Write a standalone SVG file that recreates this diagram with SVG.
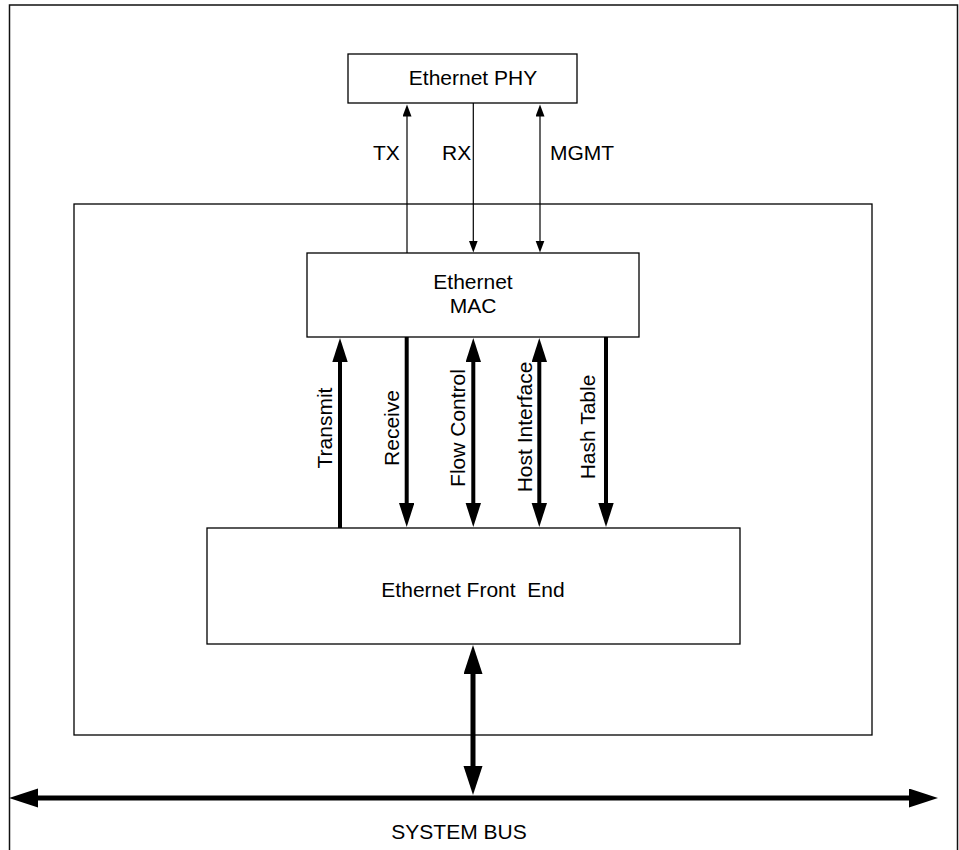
<svg xmlns="http://www.w3.org/2000/svg" width="959" height="850" viewBox="0 0 959 850">
<style>
  .box { fill: #fff; stroke: #000; stroke-width: 1.3; }
  .frame { fill: none; stroke: #111; stroke-width: 1.5; }
  .lbl { font-family: "Liberation Sans", Arial, sans-serif; font-size: 21px; fill: #000; }
  .mid { text-anchor: middle; }
  .thin { stroke: #000; stroke-width: 1.2; fill: none; }
  .med { stroke: #000; stroke-width: 4; fill: none; }
  .big { stroke: #000; stroke-width: 5; fill: none; }
</style>
<defs>
  <marker id="hThin" markerUnits="userSpaceOnUse" markerWidth="13" markerHeight="10" refX="0.5" refY="4.5" orient="auto-start-reverse">
    <path d="M0,0 L12,4.5 L0,9 Z" fill="#000"/>
  </marker>
  <marker id="hMed" markerUnits="userSpaceOnUse" markerWidth="25" markerHeight="16" refX="1" refY="7.7" orient="auto-start-reverse">
    <path d="M0,0 L24,7.7 L0,15.4 Z" fill="#000"/>
  </marker>
  <marker id="hBig" markerUnits="userSpaceOnUse" markerWidth="30" markerHeight="20" refX="1" refY="9.5" orient="auto-start-reverse">
    <path d="M0,0 L29,9.5 L0,19 Z" fill="#000"/>
  </marker>
</defs>

<g id="outer-frame">
  <path class="frame" d="M9.5,860 L9.5,5 L957.5,5 L957.5,860"/>
</g>

<g id="system">
  <rect class="box" x="74" y="204" width="798" height="531"/>
</g>

<g id="ethernet-phy">
  <rect class="box" x="348" y="54" width="229" height="49"/>
  <text class="lbl mid" x="473" y="85">Ethernet PHY</text>
</g>

<g id="ethernet-mac">
  <rect class="box" x="307" y="253" width="332" height="84"/>
  <text class="lbl mid" x="473" y="289">Ethernet</text>
  <text class="lbl mid" x="473" y="313">MAC</text>
</g>

<g id="ethernet-front-end">
  <rect class="box" x="207" y="528" width="533" height="116"/>
  <text class="lbl mid" x="473" y="597" xml:space="preserve">Ethernet Front  End</text>
</g>

<g id="connectors">
  <line class="thin" x1="407" y1="253" x2="407" y2="116" marker-end="url(#hThin)"/>
  <line class="thin" x1="473.3" y1="103" x2="473.3" y2="241" marker-end="url(#hThin)"/>
  <line class="thin" x1="540" y1="116" x2="540" y2="241" marker-start="url(#hThin)" marker-end="url(#hThin)"/>

  <line class="med" x1="340" y1="528" x2="340" y2="361" marker-end="url(#hMed)"/>
  <line class="med" x1="406.7" y1="337" x2="406.7" y2="504" marker-end="url(#hMed)"/>
  <line class="med" x1="473.3" y1="361" x2="473.3" y2="504" marker-start="url(#hMed)" marker-end="url(#hMed)"/>
  <line class="med" x1="539.3" y1="361" x2="539.3" y2="504" marker-start="url(#hMed)" marker-end="url(#hMed)"/>
  <line class="med" x1="606" y1="337" x2="606" y2="504" marker-end="url(#hMed)"/>

  <line class="big" x1="473" y1="673" x2="473" y2="767" marker-start="url(#hBig)" marker-end="url(#hBig)"/>
  <line class="big" x1="37" y1="798" x2="910" y2="798" marker-start="url(#hBig)" marker-end="url(#hBig)"/>
</g>

<g id="labels">
  <text class="lbl" x="373" y="160">TX</text>
  <text class="lbl" x="442" y="160">RX</text>
  <text class="lbl" x="550" y="160">MGMT</text>
  <text class="lbl mid" transform="translate(331.5,428) rotate(-90)">Transmit</text>
  <text class="lbl mid" transform="translate(399,428) rotate(-90)">Receive</text>
  <text class="lbl mid" transform="translate(465,428) rotate(-90)">Flow Control</text>
  <text class="lbl mid" transform="translate(531.5,427) rotate(-90)">Host Interface</text>
  <text class="lbl mid" transform="translate(595,427) rotate(-90)">Hash Table</text>
  <text class="lbl mid" x="459" y="839">SYSTEM BUS</text>
</g>
</svg>
